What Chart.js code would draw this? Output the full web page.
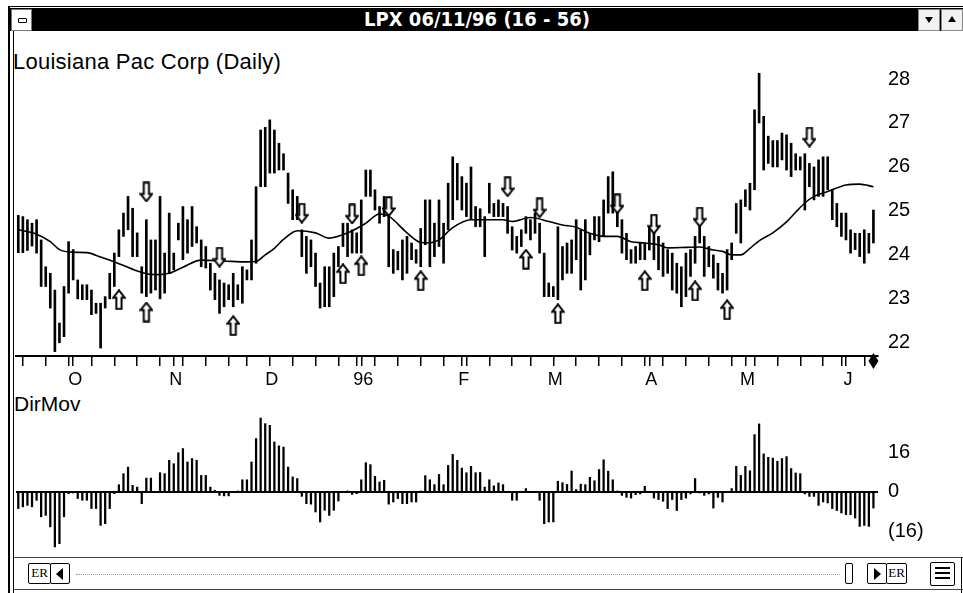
<!DOCTYPE html>
<html>
<head>
<meta charset="utf-8">
<script src="https://cdn.jsdelivr.net/npm/chart.js@4.4.1/dist/chart.umd.min.js"></script>
<style>
  html, body { margin: 0; padding: 0; background: #fff; }
  body { width: 963px; height: 593px; position: relative; overflow: hidden; font-family: "Liberation Sans", Arial, sans-serif; color: #000; }
  .abs { position: absolute; }
  .frame-top { left: 8px; top: 6px; width: 955px; height: 1px; background: #000; }
  .frame-l1 { left: 8px; top: 6px; width: 2px; height: 587px; background: #000; }
  .frame-l2 { left: 13px; top: 31px; width: 1px; height: 562px; background: #000; }
  .titlebar { left: 10px; top: 8px; width: 953px; height: 23px; background: #000; }
  .title { left: 10px; top: 8px; width: 934px; height: 23px; line-height: 23px; text-align: center; color: #fff; font-family: "Liberation Sans Narrow", "DejaVu Sans", sans-serif; font-stretch: condensed; font-weight: bold; font-size: 20px; }
  .ctrl { left: 11px; top: 9px; width: 19px; height: 20px; background: #fff; border: 1px solid #777; }
  .ctrl i { position: absolute; left: 6px; top: 8px; width: 7px; height: 3px; border: 1px solid #000; border-radius: 1px; }
  .btn { top: 9px; width: 20px; height: 20px; background: #f2f2f2; border: 1px solid #888; }
  .tri-d { position: absolute; left: 6px; top: 7px; width: 0; height: 0; border-left: 4px solid transparent; border-right: 4px solid transparent; border-top: 6px solid #000; }
  .tri-u { position: absolute; left: 6px; top: 6px; width: 0; height: 0; border-left: 4px solid transparent; border-right: 4px solid transparent; border-bottom: 6px solid #000; }
  .label { font-size: 22px; line-height: 24px; white-space: nowrap; }
  .sep { left: 14px; top: 557px; width: 949px; height: 1px; background: #444; }
  .sep2 { left: 14px; top: 589px; width: 949px; height: 1px; background: #444; }
  .vr { left: 961px; top: 557px; width: 1px; height: 36px; background: #000; }
  .box { top: 563px; height: 21px; border: 1.5px solid #000; border-radius: 2px; background: #fff; box-sizing: border-box; }
  .er { font-family: "Liberation Serif", "DejaVu Serif", serif; font-size: 13px; line-height: 18px; text-align: center; }
  .track { left: 76px; top: 574px; width: 764px; height: 0; border-top: 1px dotted #999; }
  .la { position: absolute; left: 5px; top: 4px; width: 0; height: 0; border-top: 6px solid transparent; border-bottom: 6px solid transparent; border-right: 7px solid #000; }
  .ra { position: absolute; left: 6px; top: 4px; width: 0; height: 0; border-top: 6px solid transparent; border-bottom: 6px solid transparent; border-left: 7px solid #000; }
  .menu i { position: absolute; left: 4px; width: 15px; height: 2px; background: #000; }
</style>
</head>
<body>
<div class="abs frame-top"></div>
<div class="abs frame-l1"></div>
<div class="abs frame-l2"></div>
<div class="abs titlebar"></div>
<div class="abs title">LPX 06/11/96 (16 - 56)</div>
<div class="abs ctrl"><i></i></div>
<div class="abs btn" style="left:918px"><span class="tri-d"></span></div>
<div class="abs btn" style="left:941px"><span class="tri-u"></span></div>

<div class="abs label" style="left:13px; top:50px; letter-spacing:0.25px">Louisiana Pac Corp (Daily)</div>
<div class="abs label" style="left:14px; top:392px; font-size:21px">DirMov</div>

<canvas id="priceChart" class="abs" style="left:0; top:40px" width="963" height="352"></canvas>
<canvas id="dirChart" class="abs" style="left:0; top:388px" width="963" height="186"></canvas>

<div class="abs sep"></div>
<div class="abs sep2"></div>
<div class="abs vr"></div>
<div class="abs box er" style="left:28px; width:23px">ER</div>
<div class="abs box" style="left:50px; width:20px"><span class="la"></span></div>
<div class="abs track"></div>
<div class="abs box" style="left:845px; width:8px"></div>
<div class="abs box" style="left:867px; width:20px"><span class="ra"></span></div>
<div class="abs box er" style="left:886px; width:21px">ER</div>
<div class="abs box menu" style="left:930px; top:562px; width:25px; height:24px"><i style="top:4px"></i><i style="top:9px"></i><i style="top:14px"></i></div>

<script>
// daily bars, 09/14/95 .. 06/11/96 (index = trading day)
var highs = [
    24.9, 24.87, 24.8, 24.72, 24.8, 24.34, 23.73, 23.58, 23.2, 22.45,
    23.28, 24.3, 24.12, 23.43, 23.32, 23.32, 23.2, 22.9, 22.9, 23.05,
    23.58, 24.04, 24.57, 24.95, 25.33, 25.06, 24.5, 23.73, 24.8, 24.34,
    24.34, 25.33, 24.04, 24.95, 24.04, 24.72, 25.1, 24.8, 25.1, 24.64,
    24.34, 24.19, 23.81, 23.58, 23.43, 23.36, 23.32, 23.58, 23.32, 23.73,
    23.66, 24.34, 25.55, 26.84, 26.9, 27.07, 26.84, 26.54, 26.3, 25.86,
    25.48, 25.33, 24.57, 24.42, 24.34, 24.04, 23.36, 23.73, 23.73, 24.04,
    24.19, 24.72, 24.72, 24.57, 24.5, 25.25, 25.93, 25.93, 25.48, 25.1,
    25.33, 24.87, 24.12, 24.08, 24.34, 24.42, 24.27, 24.12, 24.6, 25.25,
    25.25, 24.72, 25.25, 24.72, 25.63, 26.23, 26.08, 25.78, 25.63, 26.0,
    25.1, 25.05, 24.87, 25.63, 25.17, 25.25, 25.17, 25.1, 24.64, 24.42,
    24.57, 24.87, 24.8, 24.95, 24.72, 24.04, 23.36, 23.28, 24.64, 24.19,
    24.27, 24.34, 24.8, 24.57, 24.8, 24.49, 24.87, 24.87, 25.25, 25.78,
    25.89, 25.17, 24.8, 24.49, 24.12, 24.19, 24.27, 24.27, 24.64, 24.72,
    24.42, 24.27, 24.12, 24.04, 23.81, 23.73, 24.04, 24.12, 24.42, 24.8,
    24.42, 24.19, 24.0, 23.81, 23.58, 24.12, 24.27, 25.17, 25.25, 25.48,
    25.63, 27.3, 28.13, 27.15, 26.7, 26.6, 26.6, 26.77, 26.73, 26.54,
    26.3, 26.23, 26.3, 26.08, 26.0, 26.16, 26.23, 26.23, 25.48, 25.17,
    24.95, 24.95, 24.57, 24.49, 24.49, 24.57, 24.49, 25.02
];
var lows = [
    24.05, 24.05, 24.1, 24.2, 24.04, 23.28, 23.28, 22.79, 21.8, 22.0,
    22.14, 23.13, 23.43, 23.0, 22.98, 22.98, 22.64, 22.67, 21.88, 22.79,
    23.0, 23.28, 23.96, 24.42, 24.57, 23.96, 23.96, 23.13, 23.05, 23.13,
    23.2, 23.0, 23.13, 23.58, 23.66, 24.34, 23.89, 24.04, 24.19, 24.27,
    23.73, 23.7, 23.2, 22.98, 22.67, 22.82, 22.98, 22.82, 22.98, 22.9,
    23.43, 23.43, 23.81, 25.55, 25.55, 25.86, 25.86, 25.93, 25.93, 25.17,
    24.8, 24.8, 23.96, 23.58, 23.73, 23.28, 22.79, 22.82, 22.82, 23.05,
    23.73, 24.19, 23.96, 24.04, 24.04, 24.04, 25.33, 25.33, 25.02, 24.72,
    24.87, 23.73, 23.58, 23.66, 23.43, 23.58, 23.89, 23.81, 23.73, 24.23,
    23.73, 23.96, 24.19, 23.81, 24.57, 24.8, 25.25, 25.02, 24.87, 24.8,
    24.64, 24.64, 23.96, 24.95, 24.87, 24.87, 24.87, 24.49, 24.11, 24.04,
    24.19, 24.49, 24.34, 24.49, 24.04, 23.05, 23.05, 23.05, 22.98, 23.43,
    23.58, 23.58, 23.89, 23.2, 23.43, 24.0, 24.34, 24.3, 24.42, 24.95,
    24.95, 24.64, 24.04, 23.89, 23.81, 23.81, 23.89, 23.89, 24.11, 23.89,
    23.66, 23.51, 23.58, 23.2, 23.13, 22.82, 23.05, 23.51, 23.81, 24.27,
    23.51, 23.73, 23.47, 23.2, 23.13, 23.2, 23.89, 24.49, 24.27, 25.1,
    25.02, 25.48, 27.0, 25.93, 26.08, 26.0, 26.0, 26.16, 25.93, 25.78,
    25.93, 25.93, 25.02, 25.55, 25.25, 25.33, 25.33, 25.48, 24.8, 24.64,
    24.42, 24.34, 24.04, 24.12, 23.96, 23.81, 24.04, 24.27
];

// moving average, read at these bars
var maBars = [0, 4, 7, 9, 12, 15, 18, 22, 27, 30, 33, 36, 40, 45, 50, 52, 54, 56, 58, 61,
    65, 68, 72, 76, 79, 81, 85, 88, 90, 92, 95, 99, 106, 108, 112, 116, 119, 122, 125, 128,
    131, 134, 137, 140, 142, 146, 149, 152, 154, 156, 158, 160, 162, 165, 168, 170, 172, 174, 177, 181,
    184, 187];
var maValues = [24.57, 24.47, 24.3, 24.12, 24.06, 24.05, 23.95, 23.8, 23.6, 23.55, 23.58, 23.72, 23.88, 23.86, 23.84, 23.85, 24.0, 24.15, 24.35, 24.55,
    24.5, 24.38, 24.5, 24.72, 24.93, 24.88, 24.5, 24.28, 24.27, 24.34, 24.62, 24.8, 24.8, 24.76, 24.85, 24.76, 24.68, 24.63, 24.49, 24.42,
    24.42, 24.3, 24.27, 24.23, 24.16, 24.17, 24.18, 24.11, 24.08, 24.0, 24.0, 24.15, 24.32, 24.5, 24.75, 24.97, 25.18, 25.33, 25.44, 25.59,
    25.61, 25.55];

// signal arrows
var upBars = [22, 28, 47, 71, 75, 88, 111, 118, 137, 148, 155];
var upPrices = [22.98, 22.7, 22.39, 23.57, 23.75, 23.41, 23.9, 22.66, 23.41, 23.18, 22.75];
var downBars = [28, 44, 62, 73, 81, 107, 114, 131, 139, 149, 173];
var downPrices = [25.43, 23.95, 24.95, 24.93, 25.1, 25.55, 25.07, 25.16, 24.7, 24.86, 26.68];

var dirMov = [
    -6.8, -6.1, -5.5, -6.1, -3.4, -10.2, -9.6, -14.3, -22.5, -21.2,
    -10.2, -0.7, -0.3, -2.7, -3.4, -3.4, -6.8, -6.8, -13.7, -13,
    -6.8, -0.7, 3, 7.5, 10.2, 2.7, 2, -4.8, 5.7, 5.7,
    0, 7.9, 7.5, 13, 11.6, 16.1, 17.8, 12.3, 13.7, 13,
    6.8, 6.8, 2, 0.7, -1.4, -1.6, -1.6, 0, 0.3, 5,
    5, 12.3, 21.9, 30.3, 28, 27.3, 20.5, 18.9, 18.4, 10.2,
    6.2, 5.5, -1.8, -4.8, -5, -8.2, -12.3, -7.5, -9.6, -7.5,
    -3.7, 0, 0.2, -1, -0.7, 5, 12, 11.2, 6.4, 4.1,
    4.8, -5, -4.1, -2.7, -4.8, -4.8, -4.1, -4.1, 0.4, 6.7,
    5, 3, 7.2, 3, 10.9, 15.4, 13, 9.8, 7.9, 10.5,
    7.9, 8, 2, 5, 2.5, 3.7, 3, 0, -3.4, -3.4,
    0, 1.4, 0, 0, -3.4, -13, -12.3, -12.3, 4.4, 3.8,
    3.1, 8.6, 1, 3.2, 3, 6, 4.6, 9.2, 13.2, 8.5,
    5, 0.3, -1.4, -2.2, -2.5, -1.1, -0.8, 2.3, 0, -2.5,
    -3.1, -3.8, -6.8, -3.1, -7.6, -3.1, -2.5, -0.8, 5.5, -0.4,
    -1.4, -0.8, -6.6, -2.2, -4.1, 0, 1.4, 10.5, 6.8, 10.5,
    8.7, 23.5, 27.9, 15.6, 14.2, 13.9, 12.6, 13.7, 14.5, 9.6,
    7.8, 7.5, -0.8, -1.8, -1.8, -5.5, -4.1, -4.5, -6.8, -7.6,
    -8.6, -9.3, -9.3, -10.7, -14.1, -13.7, -14.1, -6.6
];

// axis ticks
var priceTicks = [22, 23, 24, 25, 26, 27, 28];
var dirTicks = [-16, 0, 16];
var monthLabels = ['O', 'N', 'D', '96', 'F', 'M', 'A', 'M', 'J'];
var monthStarts = [12, 34, 55, 75, 97, 117, 138, 159, 181];
var weekEnds = [1, 6, 11, 16, 21, 26, 31, 36, 41, 46, 50, 55, 60, 65, 70, 74, 78, 83, 88, 93,
    98, 103, 108, 112, 117, 122, 127, 132, 137, 141, 146, 151, 156, 161, 166, 171, 176, 180, 185];

var FONT = '"Liberation Sans", Arial, sans-serif';

function makeArrow(up) {
    var c = document.createElement('canvas');
    c.width = 14;
    c.height = 21;
    var g = c.getContext('2d');
    if (!up) {
        g.translate(0, 21);
        g.scale(1, -1);
    }
    g.beginPath();
    g.moveTo(7, 1.2);
    g.lineTo(12.8, 8.5);
    g.lineTo(9.6, 8.5);
    g.lineTo(9.6, 19.8);
    g.lineTo(4.4, 19.8);
    g.lineTo(4.4, 8.5);
    g.lineTo(1.2, 8.5);
    g.closePath();
    g.fillStyle = '#fff';
    g.fill();
    g.lineWidth = 2;
    g.lineJoin = 'miter';
    g.strokeStyle = '#000';
    g.stroke();
    return c;
}

var xTicks = weekEnds.concat(monthStarts)
    .filter(function (v, i, a) { return a.indexOf(v) === i; })
    .sort(function (a, b) { return a - b; });

var endMarker = {
    id: 'endMarker',
    afterDatasetsDraw: function (chart) {
        var c = chart.ctx;
        var x = chart.scales.x.getPixelForValue(highs.length - 1);
        var y = chart.chartArea.bottom + 5;
        c.save();
        c.beginPath();
        c.moveTo(x, y - 8);
        c.lineTo(x + 5, y);
        c.lineTo(x, y + 8);
        c.lineTo(x - 5, y);
        c.closePath();
        c.fillStyle = '#000';
        c.fill();
        c.restore();
    }
};

function baseX() {
    return { type: 'linear', min: -0.5, max: 188, offset: false };
}

new Chart(document.getElementById('priceChart'), {
    type: 'bar',
    data: {
        datasets: [
            {
                type: 'bar',
                data: highs.map(function (h, i) { return { x: i, y: [lows[i], h] }; }),
                backgroundColor: '#000',
                barThickness: 2,
                order: 3
            },
            {
                type: 'line',
                data: maBars.map(function (b, i) { return { x: b, y: maValues[i] }; }),
                borderColor: '#000',
                borderWidth: 1.6,
                pointRadius: 0,
                cubicInterpolationMode: 'monotone',
                order: 2
            },
            {
                type: 'scatter',
                data: upBars.map(function (b, i) { return { x: b, y: upPrices[i] }; }),
                pointStyle: makeArrow(true),
                pointRadius: 5,
                order: 1
            },
            {
                type: 'scatter',
                data: downBars.map(function (b, i) { return { x: b, y: downPrices[i] }; }),
                pointStyle: makeArrow(false),
                pointRadius: 5,
                order: 1
            }
        ]
    },
    options: {
        responsive: false,
        animation: false,
        events: [],
        layout: { padding: { left: 16, right: 0, top: 28, bottom: 0 } },
        plugins: { legend: { display: false }, tooltip: { enabled: false } },
        scales: {
            x: Object.assign(baseX(), {
                afterBuildTicks: function (s) { s.ticks = xTicks.map(function (v) { return { value: v }; }); },
                afterFit: function (s) { s.height = 36; },
                grid: { display: true, offset: false, drawOnChartArea: false, drawTicks: true, tickLength: 10, color: '#000', lineWidth: 1.5 },
                border: { display: true, color: '#000', width: 2 },
                ticks: {
                    autoSkip: false,
                    maxRotation: 0,
                    padding: 3,
                    labelOffset: 2,
                    color: '#000',
                    font: { family: FONT, size: 18 },
                    callback: function (v) {
                        var k = monthStarts.indexOf(v);
                        return k >= 0 ? monthLabels[k] : '';
                    }
                }
            }),
            y: {
                position: 'right',
                min: 21.7,
                max: 28.25,
                afterBuildTicks: function (s) { s.ticks = priceTicks.map(function (v) { return { value: v }; }); },
                afterFit: function (s) { s.width = 85; },
                grid: { display: false, drawTicks: false },
                border: { display: false },
                ticks: { padding: 10, color: '#000', font: { family: FONT, size: 20 } }
            }
        }
    },
    plugins: [endMarker]
});

new Chart(document.getElementById('dirChart'), {
    type: 'bar',
    data: {
        datasets: [{
            data: dirMov.map(function (v, i) { return { x: i, y: v }; }),
            backgroundColor: '#000',
            barThickness: 1.6
        }]
    },
    options: {
        responsive: false,
        animation: false,
        events: [],
        layout: { padding: { left: 16, right: 0, top: 22, bottom: 22 } },
        plugins: { legend: { display: false }, tooltip: { enabled: false } },
        scales: {
            x: Object.assign(baseX(), { display: false, grid: { offset: false } }),
            y: {
                position: 'right',
                min: -24.6,
                max: 33.6,
                afterBuildTicks: function (s) { s.ticks = dirTicks.map(function (v) { return { value: v }; }); },
                afterFit: function (s) { s.width = 85; },
                grid: {
                    drawTicks: false,
                    lineWidth: 2,
                    color: function (ctx) { return ctx.tick && ctx.tick.value === 0 ? '#000' : 'rgba(0,0,0,0)'; }
                },
                border: { display: false },
                ticks: {
                    padding: 10,
                    color: '#000',
                    font: { family: FONT, size: 20 },
                    callback: function (v) { return v < 0 ? '(' + Math.abs(v) + ')' : String(v); }
                }
            }
        }
    }
});
</script>
</body>
</html>
